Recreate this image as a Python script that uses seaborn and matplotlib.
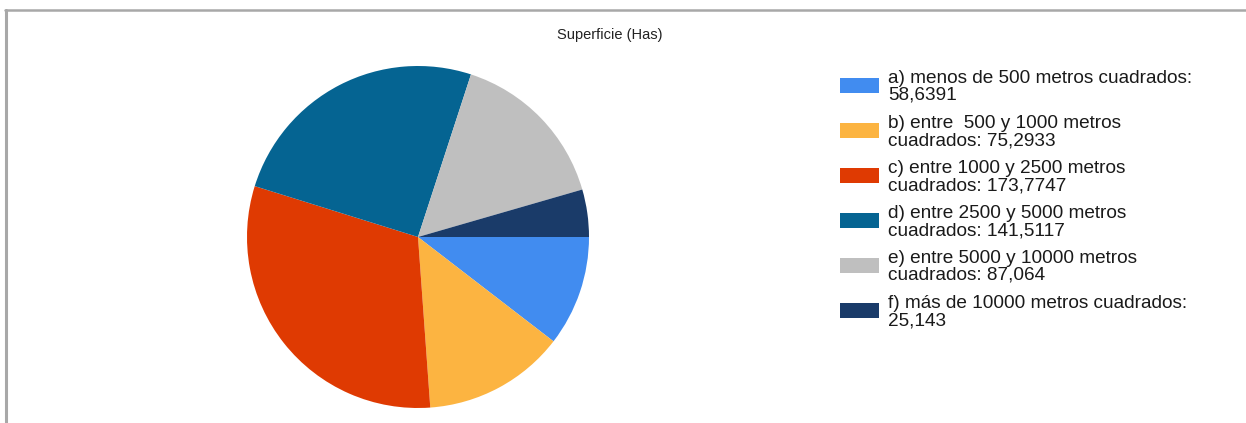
import matplotlib
matplotlib.use("Agg")
import matplotlib.pyplot as plt
import seaborn as sns
from matplotlib.patches import Rectangle
from matplotlib.lines import Line2D

# ---- data ----
categories = [
    "a) menos de 500 metros cuadrados:",
    "b) entre  500 y 1000 metros\ncuadrados:",
    "c) entre 1000 y 2500 metros\ncuadrados:",
    "d) entre 2500 y 5000 metros\ncuadrados:",
    "e) entre 5000 y 10000 metros\ncuadrados:",
    "f) más de 10000 metros cuadrados:",
]
values = [58.6391, 75.2933, 173.7747, 141.5117, 87.064, 25.143]
value_labels = ["58,6391", "75,2933", "173,7747", "141,5117", "87,064", "25,143"]
colors = ["#418CF0", "#FCB441", "#DF3A02", "#056492", "#BFBFBF", "#1A3B69"]
title = "Superficie (Has)"

sns.set_theme(style="white")
plt.rcParams["font.family"] = ["Liberation Sans", "DejaVu Sans"]

W, H = 1246, 423
fig = plt.figure(figsize=(W / 100, H / 100), dpi=100)
fig.patch.set_facecolor("white")

def fx(px):
    return px / W

def fy(py):
    return 1 - py / H

# pie axes: center (418,237), radius 171 px
cx, cy, r = 418, 237, 171
ax = fig.add_axes([fx(cx - r), fy(cy + r), (2 * r) / W, (2 * r) / H])
palette = sns.color_palette(colors)
ax.pie(values, colors=palette, startangle=0, counterclock=False,
       wedgeprops=dict(linewidth=0))
ax.set_xlim(-1, 1)
ax.set_ylim(-1, 1)
ax.axis("off")

# title
fig.text(fx(610), fy(39), title, ha="center", va="baseline",
         fontsize=10.5, color="#222222")

# legend (manual)
for i, (cat, val) in enumerate(zip(categories, value_labels)):
    base = 83 + 45 * i
    if "\n" in cat:
        l1, l2 = cat.split("\n")
        l2 = l2 + " " + val
    else:
        l1, l2 = cat, val
    fig.text(fx(888), fy(base), l1, ha="left", va="baseline",
             fontsize=13.7, color="#1a1a1a")
    fig.text(fx(888), fy(base + 17), l2, ha="left", va="baseline",
             fontsize=13.7, color="#1a1a1a")
    fig.add_artist(Rectangle((fx(840), fy(base + 10)), 39 / W, 15 / H,
                             transform=fig.transFigure, facecolor=palette[i],
                             edgecolor="none"))

# border (top and left lines)
fig.add_artist(Line2D([fx(5), 1], [fy(10), fy(10)], transform=fig.transFigure,
                      color="#A8A8A8", linewidth=1.8))
fig.add_artist(Line2D([fx(6), fx(6)], [fy(10), 0], transform=fig.transFigure,
                      color="#A8A8A8", linewidth=2.2))

fig.savefig("out.png", dpi=100, facecolor="white")
